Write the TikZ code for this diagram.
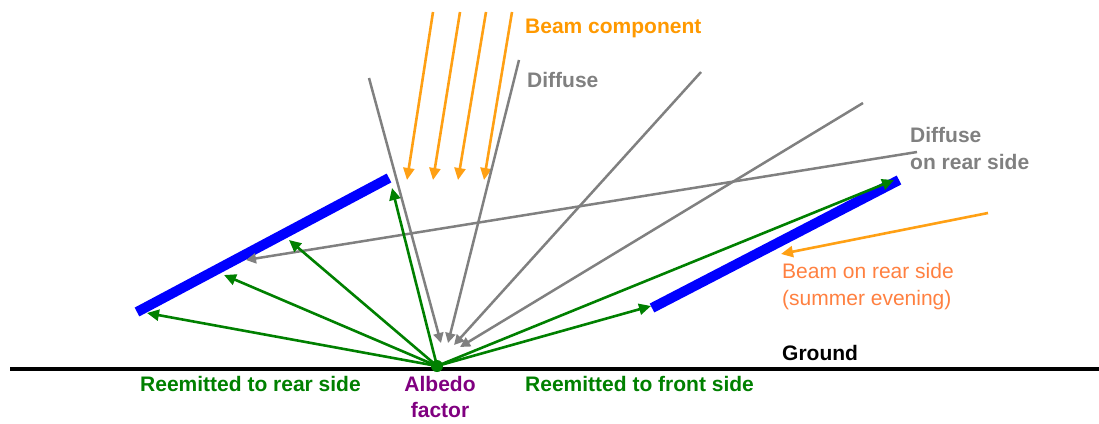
\documentclass[tikz,border=0pt]{standalone}
\usepackage{fontspec}
\setmainfont{Liberation Sans}
\usetikzlibrary{arrows.meta}

\definecolor{beam}{RGB}{255,160,20}
\definecolor{beamtext}{RGB}{255,153,0}
\definecolor{rearbeam}{RGB}{255,128,64}
\definecolor{diffuse}{RGB}{128,128,128}
\definecolor{reemit}{RGB}{0,128,0}
\definecolor{panel}{RGB}{0,0,255}
\definecolor{albedo}{RGB}{128,0,128}

\tikzset{
  beamray/.style={draw=beam, line width=2.6pt, -{Triangle[length=12pt,width=11pt]}},
  diffray/.style={draw=diffuse, line width=2.5pt, -{Triangle[length=10pt,width=10pt]}},
  reemitray/.style={draw=reemit, line width=2.6pt, -{Triangle[length=12pt,width=11pt]}},
  panelbar/.style={draw=panel, line width=10pt},
  groundline/.style={draw=black, line width=4.5pt},
  lbl/.style={font=\fontsize{21}{25}\selectfont\bfseries, inner sep=0pt, anchor=base west},
  lblthin/.style={font=\fontsize{21}{25}\selectfont, inner sep=0pt, anchor=base west},
}

\begin{document}
\begin{tikzpicture}[x=1pt,y=-1pt]
\useasboundingbox (0,0) rectangle (1099,423);

% ground
\coordinate (gl) at (10,369);
\coordinate (gr) at (1099,369);
\draw[groundline] (gl) -- (gr);

% PV panels
\coordinate (lp1) at (137,312);
\coordinate (lp2) at (389,178);
\coordinate (rp1) at (652,308);
\coordinate (rp2) at (899,180);
\draw[panelbar] (lp1) -- (lp2);
\draw[panelbar] (rp1) -- (rp2);

% albedo point
\coordinate (alb) at (437,366);

% beam component
\foreach \i/\xs/\xe in {1/433/407, 2/460/433, 3/486/458, 4/512/484}{
  \coordinate (bs\i) at (\xs,12);
  \coordinate (be\i) at (\xe,180);
  \draw[beamray] (bs\i) -- (be\i);
}

% diffuse component
\coordinate (ds1) at (369,78);   \coordinate (de1) at (441,343);
\coordinate (ds2) at (519,60);   \coordinate (de2) at (448,343);
\coordinate (ds3) at (701,72);   \coordinate (de3) at (454,345);
\coordinate (ds4) at (863,103);  \coordinate (de4) at (460,347);
\foreach \i in {1,...,4}{ \draw[diffray] (ds\i) -- (de\i); }

% diffuse on rear side
\coordinate (drs) at (917,152);
\coordinate (dre) at (246,260);
\draw[diffray] (drs) -- (dre);

% beam on rear side
\coordinate (brs) at (988,213);
\coordinate (bre) at (781,254);
\draw[beamray] (brs) -- (bre);

% reemitted light
\coordinate (r1) at (147,313);
\coordinate (r2) at (224,275);
\coordinate (r3) at (289,240);
\coordinate (r4) at (392,188);
\coordinate (f1) at (651,306);
\coordinate (f2) at (894,180);
\foreach \t in {r1,r2,r3,r4,f1,f2}{ \draw[reemitray] (alb) -- (\t); }
\fill[reemit] (alb) circle (6);

% labels
\node[lbl, text=beamtext] (tbeam) at (525,33) {Beam component};
\node[lbl, text=diffuse] (tdiff) at (527,87) {Diffuse};
\node[lbl, text=diffuse] (trear1) at (910,142) {Diffuse};
\node[lbl, text=diffuse] (trear2) at (910,169) {on rear side};
\node[lblthin, text=rearbeam] (tbr1) at (782,278) {Beam on rear side};
\node[lblthin, text=rearbeam] (tbr2) at (782,305) {(summer evening)};
\node[lbl, text=black] (tground) at (782,360) {Ground};
\node[lbl, text=reemit] (trr) at (140,391) {Reemitted to rear side};
\node[lbl, text=reemit] (trf) at (525,391) {Reemitted to front side};
\node[lbl, text=albedo, anchor=base] (talb1) at (440,391) {Albedo};
\node[lbl, text=albedo, anchor=base] (talb2) at (440,417) {factor};
\end{tikzpicture}
\end{document}
